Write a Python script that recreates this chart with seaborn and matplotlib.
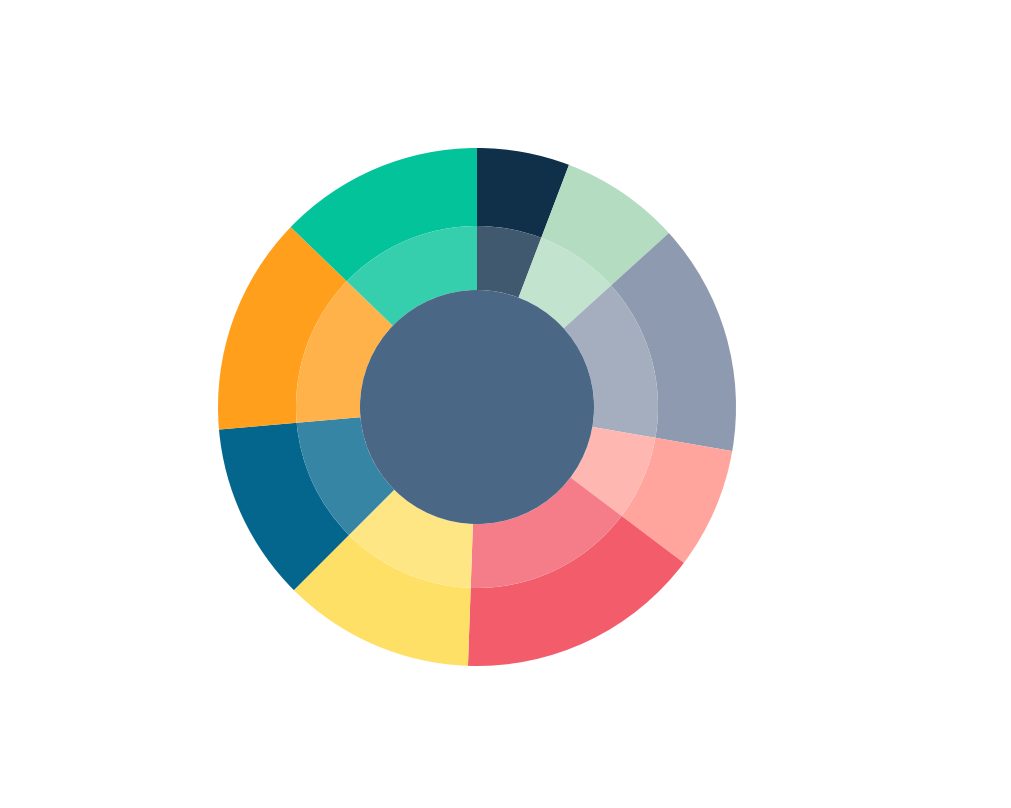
import matplotlib
matplotlib.use("Agg")
import matplotlib.pyplot as plt
import matplotlib.colors as mcolors
import seaborn as sns
import numpy as np

# segment sizes (degrees, clockwise from 12 o'clock)
shares = [20.8, 27.0, 52.0, 27.2, 55.0, 43.0, 40.0, 49.0, 46.0]
colors = ["#10304a", "#b3dcc0", "#8e9aaf", "#ffa59e", "#f25c6b",
          "#ffe066", "#05668d", "#ff9f1c", "#02c39a"]
center_color = "#4a6785"

sns.set_style("white")
palette = sns.color_palette(colors)


def lighten(c, a=0.2):
    rgb = np.array(mcolors.to_rgb(c))
    return tuple(rgb + (1 - rgb) * a)


fig = plt.figure(figsize=(10.12, 8.08), dpi=100)
ax = fig.add_axes([0, 0, 1, 1])

# outer ring
ax.pie(shares, colors=palette, startangle=90, counterclock=False,
       radius=259, wedgeprops=dict(width=78, linewidth=0))
# lighter inner ring
ax.pie(shares, colors=[lighten(c) for c in palette], startangle=90,
       counterclock=False, radius=181, wedgeprops=dict(width=64, linewidth=0))
ax.add_patch(plt.Circle((0, 0), 117, color=center_color, linewidth=0))

ax.set_xlim(-477, 535)
ax.set_ylim(-401, 407)
ax.set_aspect("equal")
ax.axis("off")

fig.savefig("out.png", dpi=100)
